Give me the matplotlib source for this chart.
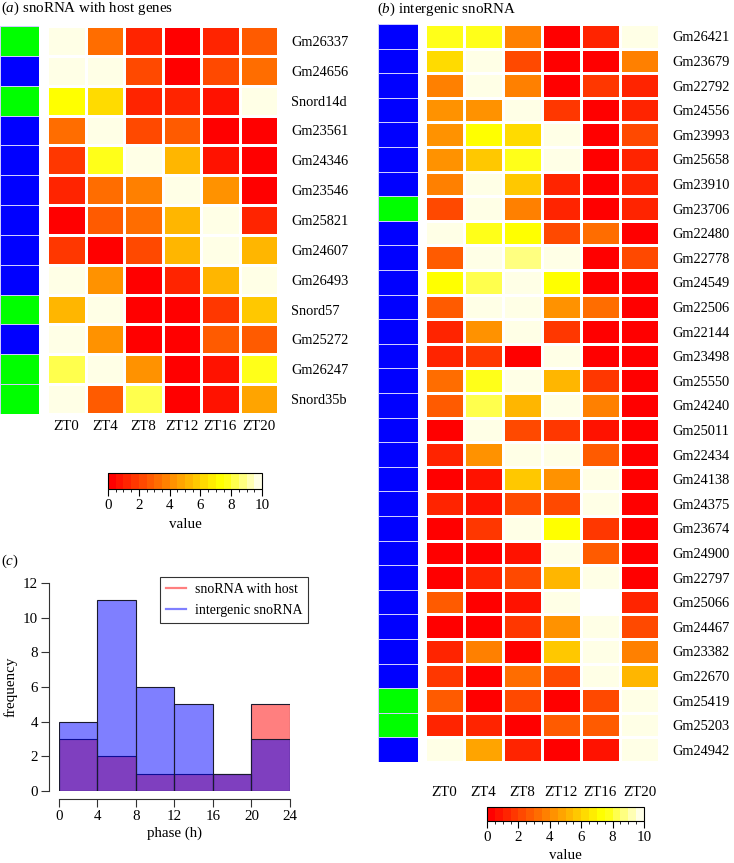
import numpy as np
import matplotlib
matplotlib.use('Agg')
import matplotlib.pyplot as plt
from matplotlib.colors import ListedColormap, BoundaryNorm, hsv_to_rgb
from matplotlib.cm import ScalarMappable
from matplotlib.lines import Line2D

plt.rcParams['font.family'] = ['Liberation Serif', 'DejaVu Serif']
plt.rcParams['mathtext.fontset'] = 'custom'
plt.rcParams['mathtext.it'] = 'Liberation Serif:italic'
plt.rcParams['mathtext.rm'] = 'Liberation Serif'

# ---------------- data ----------------
times = ["ZT0", "ZT4", "ZT8", "ZT12", "ZT16", "ZT20"]

host_genes = ["Gm26337", "Gm24656", "Snord14d", "Gm23561", "Gm24346", "Gm23546",
              "Gm25821", "Gm24607", "Gm26493", "Snord57", "Gm25272", "Gm26247", "Snord35b"]
host_class = [0, 1, 0, 1, 1, 1, 1, 1, 1, 0, 1, 0, 0]
host_values = [
    [9.8, 3.0, 1.2, 0.2, 1.0, 2.8],
    [9.8, 9.8, 2.0, 0.3, 2.2, 3.0],
    [7.2, 6.2, 1.3, 1.0, 0.5, 9.8],
    [3.0, 9.8, 2.2, 2.6, 0.4, 0.2],
    [1.8, 7.7, 9.8, 5.0, 0.8, 0.2],
    [1.0, 3.0, 3.7, 9.8, 4.4, 0.3],
    [0.3, 2.8, 3.0, 5.0, 9.8, 1.1],
    [1.8, 0.3, 2.3, 5.0, 9.8, 5.0],
    [9.8, 4.2, 0.3, 1.0, 5.0, 9.8],
    [5.0, 9.8, 0.2, 0.3, 1.8, 5.8],
    [9.8, 4.3, 0.3, 0.2, 2.8, 2.8],
    [8.3, 9.8, 4.2, 0.2, 0.7, 7.7],
    [9.8, 2.8, 8.3, 0.3, 0.8, 4.5],
]

inter_genes = ["Gm26421", "Gm23679", "Gm22792", "Gm24556", "Gm23993", "Gm25658",
               "Gm23910", "Gm23706", "Gm22480", "Gm22778", "Gm24549", "Gm22506",
               "Gm22144", "Gm23498", "Gm25550", "Gm24240", "Gm25011", "Gm22434",
               "Gm24138", "Gm24375", "Gm23674", "Gm24900", "Gm22797", "Gm25066",
               "Gm24467", "Gm23382", "Gm22670", "Gm25419", "Gm25203", "Gm24942"]
inter_class = [1, 1, 1, 1, 1, 1, 1, 0, 1, 1, 1, 1, 1, 1, 1,
               1, 1, 1, 1, 1, 1, 1, 1, 1, 1, 1, 1, 0, 0, 1]
inter_values = [
    [7.7, 7.7, 3.6, 0.2, 1.2, 9.8],
    [6.3, 9.8, 2.2, 0.2, 0.3, 3.6],
    [3.6, 9.8, 3.6, 0.2, 1.8, 1.2],
    [4.3, 4.3, 9.8, 1.8, 0.3, 1.2],
    [4.3, 7.2, 6.3, 9.8, 0.3, 2.0],
    [4.3, 5.8, 7.7, 9.8, 0.3, 1.2],
    [3.6, 9.8, 5.5, 1.2, 0.3, 1.4],
    [2.2, 9.8, 3.6, 1.2, 0.3, 1.0],
    [9.8, 7.7, 7.2, 2.2, 3.0, 0.2],
    [2.8, 9.8, 8.7, 9.8, 0.3, 2.2],
    [7.2, 8.3, 9.8, 7.2, 0.2, 0.2],
    [2.8, 9.8, 9.8, 4.3, 3.0, 0.2],
    [1.0, 4.2, 9.8, 1.8, 0.3, 0.2],
    [1.0, 1.6, 0.4, 9.8, 0.3, 0.2],
    [3.0, 7.7, 9.8, 5.0, 1.8, 0.2],
    [2.8, 8.3, 5.0, 9.8, 3.6, 0.2],
    [0.3, 9.8, 2.0, 1.6, 0.8, 0.2],
    [1.0, 4.2, 9.8, 9.8, 2.8, 0.2],
    [0.3, 0.9, 5.8, 4.3, 9.8, 0.2],
    [1.0, 0.5, 2.2, 2.2, 9.8, 0.2],
    [0.3, 1.8, 9.8, 7.2, 1.8, 0.2],
    [0.3, 0.4, 0.8, 9.8, 2.8, 0.2],
    [0.3, 1.0, 2.2, 5.0, 9.8, 0.2],
    [2.8, 0.3, 0.6, 9.8, np.nan, 1.2],
    [0.3, 0.4, 1.6, 4.3, 9.8, 2.0],
    [1.0, 3.6, 0.3, 5.8, 9.8, 3.6],
    [1.6, 0.4, 3.4, 2.2, 9.8, 5.0],
    [2.8, 0.4, 2.2, 0.2, 2.0, 9.8],
    [1.0, 1.2, 0.4, 2.8, 2.8, 9.8],
    [9.8, 4.5, 1.4, 0.3, 0.5, 9.8],
]

phase_edges = [0, 4, 8, 12, 16, 20, 24]
host_counts = [3, 2, 1, 1, 1, 5]
inter_counts = [4, 11, 6, 5, 1, 3]

# ---------------- colormap (R heat.colors(20)) ----------------
n_col = 20
j = n_col // 4
i = n_col - j
hsv = [(h, 1.0, 1.0) for h in np.linspace(0, 1 / 6, i)]
hsv += [(1 / 6, s, 1.0) for s in np.linspace(1 - 1 / (2 * j), 1 / (2 * j), j)]
heat = ListedColormap(hsv_to_rgb(np.array(hsv)))
norm = BoundaryNorm(np.linspace(0, 10, n_col + 1), n_col)
class_cmap = ListedColormap(['#00FF00', '#0000FF'])

W, H = 734, 863
fig = plt.figure(figsize=(W / 100, H / 100), dpi=100)


def rect(x0, y0, x1, y1):
    return [x0 / W, 1 - y1 / H, (x1 - x0) / W, (y1 - y0) / H]


FS = 10.8
GFS = 10.4
LFS = 10.0


def heatmap(side_box, heat_box, genes, classes, values, xlab_pad):
    n = len(genes)
    ax_s = fig.add_axes(rect(*side_box))
    ax_s.pcolormesh(np.arange(2), np.arange(n + 1), np.array(classes)[:, None],
                    cmap=class_cmap, vmin=-0.5, vmax=1.5,
                    edgecolors='#ccccff', linewidth=0.7)
    ax_s.set_ylim(n, 0)
    ax_s.axis('off')

    ax = fig.add_axes(rect(*heat_box))
    vals = np.ma.masked_invalid(np.array(values, float))
    ax.pcolormesh(np.arange(len(times) + 1), np.arange(n + 1), vals,
                  cmap=heat, norm=norm, edgecolors='white', linewidth=0.8)
    ax.set_facecolor('white')
    ax.set_xlim(0, len(times))
    ax.set_ylim(n, 0)
    ax.set_xticks(np.arange(len(times)) + 0.5)
    ax.set_xticklabels(times, fontsize=FS)
    ax.set_yticks(np.arange(n) + 0.5)
    ax.set_yticklabels(genes, fontsize=GFS)
    ax.yaxis.tick_right()
    ax.tick_params(axis='y', length=0, pad=9.5)
    ax.tick_params(axis='x', length=0, pad=xlab_pad)
    for sp in ax.spines.values():
        sp.set_visible(False)
    return ax


def colorbar(box, label_y):
    cax = fig.add_axes(rect(*box))
    cb = fig.colorbar(ScalarMappable(norm=norm, cmap=heat), cax=cax,
                      orientation='horizontal')
    cb.set_ticks([0, 2, 4, 6, 8, 10])
    cb.ax.tick_params(labelsize=FS, length=5, width=0.8, direction='out', pad=2)
    cb.outline.set_linewidth(0.8)
    x0, y0, x1, y1 = box
    fig.text(((x0 + x1) / 2) / W, 1 - label_y / H, 'value', ha='center',
             va='center', fontsize=FS)


# panel (a)
heatmap((0, 26, 39, 414), (47, 26, 278, 414), host_genes, host_class,
        host_values, 4)
fig.text(1 / W, 1 - 8 / H, r'($\it{a}$) snoRNA with host genes', ha='left',
         va='center', fontsize=FS)
colorbar((108, 473, 262, 489), 525)

# panel (b)
heatmap((378, 24, 418, 762), (425, 24, 659, 762), inter_genes, inter_class,
        inter_values, 17)
fig.text(377 / W, 1 - 9 / H, r'($\it{b}$) intergenic snoRNA', ha='left',
         va='center', fontsize=FS)
colorbar((487, 807, 644, 821), 855)

# panel (c)
fig.text(1 / W, 1 - 561 / H, r'($\it{c}$)', ha='left', va='center', fontsize=FS)
axh = fig.add_axes(rect(59, 583, 290, 791))
lefts = phase_edges[:-1]
widths = np.diff(phase_edges)
axh.bar(lefts, host_counts, width=widths, align='edge',
        color=(1, 0, 0, 0.5), edgecolor='#1a1a2e', linewidth=0.8)
axh.bar(lefts, inter_counts, width=widths, align='edge',
        color=(0, 0, 1, 0.5), edgecolor='#1a1a2e', linewidth=0.8)
axh.set_xlim(0, 24)
axh.set_ylim(0, 12)
axh.set_xticks(phase_edges)
axh.set_yticks([0, 2, 4, 6, 8, 10, 12])
axh.spines['top'].set_visible(False)
axh.spines['right'].set_visible(False)
axh.spines['left'].set_position(('outward', 7))
axh.spines['bottom'].set_position(('outward', 6))
axh.spines['left'].set_bounds(0, 12)
axh.spines['bottom'].set_bounds(0, 24)
for sp in ('left', 'bottom'):
    axh.spines[sp].set_linewidth(0.8)
    axh.spines[sp].set_color('#333333')
axh.tick_params(labelsize=FS, length=6, width=0.8, color='#333333', pad=2)
axh.set_xlabel('phase (h)', fontsize=FS, labelpad=2)
axh.set_ylabel('frequency', fontsize=FS, labelpad=4)

handles = [Line2D([], [], color=(1, 0, 0, 0.5), lw=1.6),
           Line2D([], [], color=(0, 0, 1, 0.5), lw=1.6)]
leg = axh.legend(handles, ['snoRNA with host', 'intergenic snoRNA'],
                 loc='upper left', bbox_to_anchor=(160 / W, 1 - 577 / H),
                 bbox_transform=fig.transFigure, fontsize=LFS, frameon=True,
                 fancybox=False, edgecolor='black', borderpad=0.45,
                 handlelength=1.45, handletextpad=0.6, labelspacing=0.55,
                 borderaxespad=0)
leg.get_frame().set_linewidth(0.8)

fig.savefig('out.png', dpi=100)
